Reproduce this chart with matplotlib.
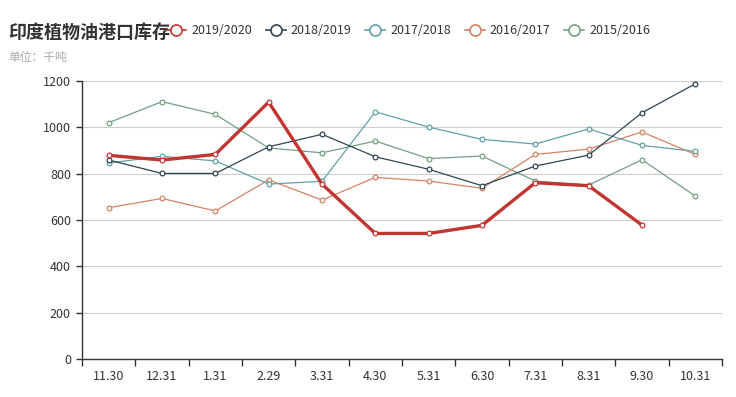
import numpy as np
import matplotlib
matplotlib.use('Agg')
import matplotlib.pyplot as plt
from matplotlib.lines import Line2D

plt.rcParams['font.family'] = ['Noto Sans CJK SC', 'DejaVu Sans']

# data (thousand tonnes)
months = ['11.30', '12.31', '1.31', '2.29', '3.31', '4.30', '5.31', '6.30',
          '7.31', '8.31', '9.30', '10.31']
s2019 = [879, 859, 883, 1109, 755, 542, 542, 577, 761, 748, 578]
s2018 = [859, 801, 801, 916, 970, 873, 819, 748, 833, 880, 1063, 1188]
s2017 = [846, 875, 855, 755, 767, 1067, 1001, 948, 928, 993, 922, 896]
s2016 = [653, 693, 639, 773, 686, 784, 768, 737, 883, 906, 980, 883]
s2015 = [1020, 1111, 1056, 911, 890, 941, 865, 876, 768, 751, 860, 703]

names = ['2019/2020', '2018/2019', '2017/2018', '2016/2017', '2015/2016']
colors = ['#c23531', '#2f4554', '#61a0a8', '#d48265', '#749f83']
series = [s2019, s2018, s2017, s2016, s2015]

fig = plt.figure(figsize=(7.36, 3.97), dpi=100)
ax = fig.add_axes([82/736, 38/397, 640/736, 278/397])

# draw older series first so the red one sits on top
for i in reversed(range(len(series))):
    vals = series[i]
    x = np.arange(len(vals))
    lw = 2.4 if i == 0 else 0.9
    ax.plot(x, vals, color=colors[i], lw=lw, marker='o', ms=3.4,
            mfc='white', mec=colors[i], mew=0.9, zorder=3 + (len(series) - i))

ax.set_xlim(-0.5, len(months) - 0.5)
ax.set_ylim(0, 1200)
ax.set_yticks(range(0, 1201, 200))
ax.set_xticks(np.arange(len(months)))
ax.set_xticklabels(months)
ax.set_xticks(np.arange(len(months) + 1) - 0.5, minor=True)
ax.tick_params(axis='x', which='major', length=0, pad=8, labelsize=9, labelcolor='#333333')
ax.tick_params(axis='x', which='minor', length=5, width=1, color='#333333')
ax.tick_params(axis='y', length=4, width=1, color='#333333', pad=4, labelsize=9, labelcolor='#333333')
ax.grid(axis='y', color='#cccccc', lw=0.8)
ax.set_axisbelow(True)
for sp in ['top', 'right']:
    ax.spines[sp].set_visible(False)
for sp in ['left', 'bottom']:
    ax.spines[sp].set_color('#333333')
    ax.spines[sp].set_linewidth(1)

fig.text(8/736, 1 - 32/397, '印度植物油港口库存', fontsize=13, fontweight='bold',
         color='#333333', va='center', ha='left')
fig.text(8/736, 1 - 58/397, '单位：千吨', fontsize=8.5, color='#aaaaaa',
         va='center', ha='left')

handles = [Line2D([0], [0], color=c, lw=1.2, marker='o', ms=8, mfc='white',
                  mec=c, mew=1.2) for c in colors]
fig.legend(handles, names, loc='center left', bbox_to_anchor=(155/736, 1 - 31/397),
           ncol=5, frameon=False, fontsize=9, handlelength=1.6, handletextpad=0.4,
           columnspacing=1.1, labelcolor='#333333')

fig.savefig('out.png', dpi=100)
